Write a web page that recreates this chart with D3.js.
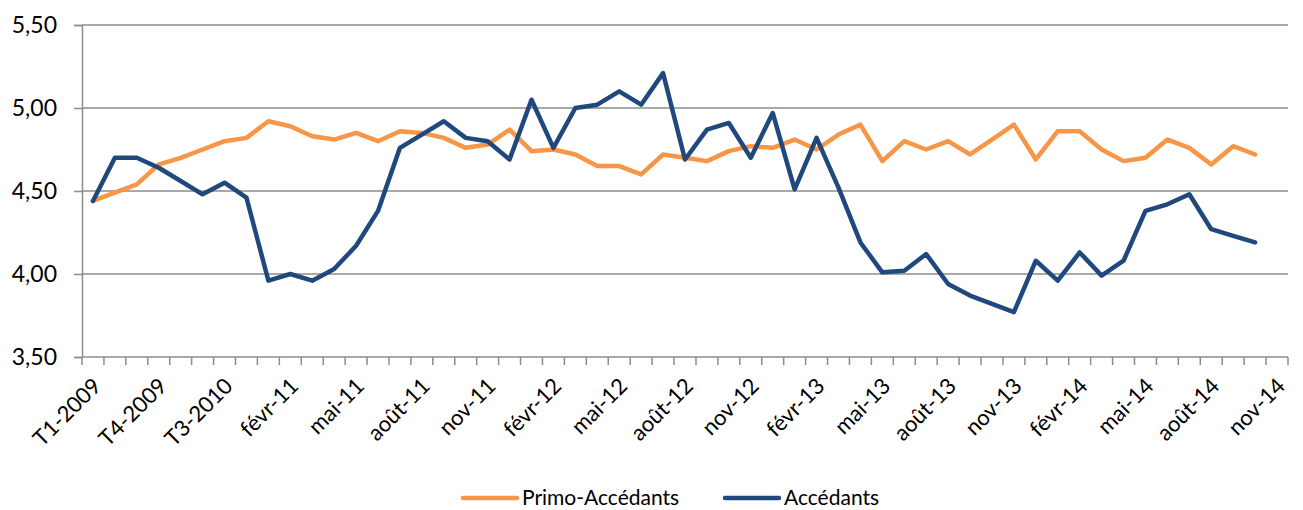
<!DOCTYPE html>
<html>
<head>
<meta charset="utf-8">
<script src="https://cdn.jsdelivr.net/npm/d3@7"></script>
<style>
  body { margin: 0; background: #fff; }
  text { font-family: Lato, "Open Sans", sans-serif; fill: #000; }
</style>
</head>
<body>
<div id="vis-container"></div>
<script>
const categories = [
  "T1-2009", "T2-2009", "T3-2009", "T4-2009", "T1-2010", "T2-2010", "T3-2010", "T4-2010",
  "janv-11", "févr-11", "mars-11", "avr-11", "mai-11", "juin-11", "juil-11", "août-11", "sept-11", "oct-11", "nov-11", "déc-11",
  "janv-12", "févr-12", "mars-12", "avr-12", "mai-12", "juin-12", "juil-12", "août-12", "sept-12", "oct-12", "nov-12", "déc-12",
  "janv-13", "févr-13", "mars-13", "avr-13", "mai-13", "juin-13", "juil-13", "août-13", "sept-13", "oct-13", "nov-13", "déc-13",
  "janv-14", "févr-14", "mars-14", "avr-14", "mai-14", "juin-14", "juil-14", "août-14", "sept-14", "oct-14", "nov-14"
];

const primoAccedants = [
  4.44, 4.49, 4.54, 4.66, 4.70, 4.75, 4.80, 4.82, 4.92, 4.89, 4.83, 4.81, 4.85, 4.80,
  4.86, 4.85, 4.82, 4.76, 4.78, 4.87, 4.74, 4.75, 4.72, 4.65, 4.65, 4.60, 4.72, 4.70,
  4.68, 4.74, 4.77, 4.76, 4.81, 4.75, 4.84, 4.90, 4.68, 4.80, 4.75, 4.80, 4.72, 4.81,
  4.90, 4.69, 4.86, 4.86, 4.75, 4.68, 4.70, 4.81, 4.76, 4.66, 4.77, 4.72, null
];

const accedants = [
  4.44, 4.70, 4.70, 4.64, 4.56, 4.48, 4.55, 4.46, 3.96, 4.00, 3.96, 4.03, 4.17, 4.38,
  4.76, 4.84, 4.92, 4.82, 4.80, 4.69, 5.05, 4.76, 5.00, 5.02, 5.10, 5.02, 5.21, 4.69,
  4.87, 4.91, 4.70, 4.97, 4.51, 4.82, 4.52, 4.19, 4.01, 4.02, 4.12, 3.94, 3.87, 3.82,
  3.77, 4.08, 3.96, 4.13, 3.99, 4.08, 4.38, 4.42, 4.48, 4.27, 4.23, 4.19, null
];

const yTicks = [3.5, 4.0, 4.5, 5.0, 5.5];
const seriesNames = ["Primo-Accédants", "Accédants"];
const seriesColors = ["#F79646", "#1F497D"];

const margin = { top: 25, right: 15, bottom: 153, left: 82 },
      width = 1303 - margin.left - margin.right,
      height = 510 - margin.top - margin.bottom;

const frLocale = d3.formatLocale({ decimal: ",", thousands: " ", grouping: [3], currency: ["", " €"] });
const fmt = frLocale.format(".2f");

const svg = d3.select("#vis-container")
  .append("svg")
    .attr("width", 1303)
    .attr("height", 510)
  .append("g")
    .attr("transform", `translate(${margin.left},${margin.top})`);

const x = d3.scaleBand()
  .domain(categories)
  .range([0, 1206]);

const y = d3.scaleLinear()
  .domain([3.5, 5.5])
  .range([height, 0]);

// Gridlines
svg.append("g")
  .selectAll("line")
  .data(yTicks.slice(1))
  .join("line")
    .attr("x1", 0)
    .attr("x2", width)
    .attr("y1", d => y(d))
    .attr("y2", d => y(d))
    .attr("stroke", "#8c8c8c")
    .attr("stroke-width", 1.5);

// Y axis
const yAxis = svg.append("g")
  .call(d3.axisLeft(y).tickValues(yTicks).tickSize(8).tickPadding(17).tickFormat(fmt));
yAxis.select(".domain").attr("stroke", "#8c8c8c").attr("stroke-width", 1.5);
yAxis.selectAll(".tick line").attr("stroke", "#8c8c8c").attr("stroke-width", 1.5);
yAxis.selectAll("text").style("font-size", "23px");

// X axis baseline + tick marks at band boundaries
const xAxis = svg.append("g")
  .attr("transform", `translate(0,${height})`);
xAxis.append("line")
  .attr("x1", 0).attr("x2", width)
  .attr("stroke", "#8c8c8c").attr("stroke-width", 1.5);
xAxis.selectAll("line.tk")
  .data(categories.map(d => x(d)).concat([x.range()[1]]))
  .join("line")
    .attr("class", "tk")
    .attr("x1", d => d).attr("x2", d => d)
    .attr("y1", 0).attr("y2", 8)
    .attr("stroke", "#8c8c8c").attr("stroke-width", 1.5);

// X labels (every 3rd category)
const xLabels = svg.append("g")
  .attr("transform", `translate(0,${height})`)
  .call(d3.axisBottom(x).tickValues(categories.filter((d, i) => i % 3 === 0)).tickSize(0));
xLabels.select(".domain").remove();
xLabels.selectAll("text")
  .attr("x", 0)
  .attr("y", 0)
  .attr("dy", "0.35em")
  .attr("text-anchor", "end")
  .attr("transform", "translate(4,25) rotate(-45)")
  .style("font-size", "22px");

// Lines
const seriesData = [primoAccedants, accedants];
const line = d3.line()
  .defined(d => d != null)
  .x((d, i) => x(categories[i]) + x.bandwidth() / 2)
  .y(d => y(d));

svg.append("g")
  .selectAll("path")
  .data(seriesData)
  .join("path")
    .attr("fill", "none")
    .attr("stroke", (d, i) => seriesColors[i])
    .attr("stroke-width", 4.5)
    .attr("stroke-linejoin", "round")
    .attr("stroke-linecap", "round")
    .attr("d", line);

// Legend
const legendX = [463 - margin.left, 725 - margin.left];
const legend = svg.append("g")
  .attr("transform", `translate(0,${498 - margin.top})`);
seriesNames.forEach((name, i) => {
  legend.append("line")
    .attr("x1", legendX[i]).attr("x2", legendX[i] + 54)
    .attr("stroke", seriesColors[i])
    .attr("stroke-width", 4.5)
    .attr("stroke-linecap", "round");
  legend.append("text")
    .attr("x", legendX[i] + 59)
    .attr("dy", "0.32em")
    .style("font-size", "21px")
    .text(name);
});
</script>
</body>
</html>
